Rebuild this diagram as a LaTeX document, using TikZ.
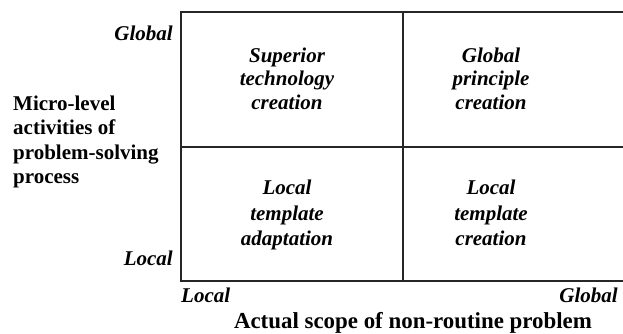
\documentclass[tikz,border=0pt]{standalone}
\usepackage{fontspec}
\setmainfont{Liberation Serif}
\begin{document}
\begin{tikzpicture}[x=1pt,y=-1pt,
  grid/.style={line width=1.3pt, black!85},
  cell/.style={font=\fontsize{21}{23.5}\selectfont\bfseries\itshape, align=center, inner sep=0pt},
  lowcell/.style={cell, font=\fontsize{21}{25.5}\selectfont\bfseries\itshape},
  axislabel/.style={font=\fontsize{21}{24}\selectfont\bfseries\itshape, inner sep=0pt},
  sidetitle/.style={font=\fontsize{21}{24.5}\selectfont\bfseries, inner sep=0pt},
  bottomtitle/.style={font=\fontsize{22.9}{26}\selectfont\bfseries, inner sep=0pt}]
  \useasboundingbox (0,0) rectangle (623,334);

  % matrix frame (open on the right)
  \coordinate (tl) at (181,12);
  \coordinate (bl) at (181,281);
  \coordinate (tr) at (623,12);
  \coordinate (br) at (623,281);
  \coordinate (ml) at (181,147);
  \coordinate (mr) at (623,147);
  \coordinate (mt) at (403,12);
  \coordinate (mb) at (403,281);
  \draw[grid] (tr) -- (tl) -- (bl) -- (br);
  \draw[grid] (ml) -- (mr);
  \draw[grid] (mt) -- (mb);

  % quadrant contents
  \node[cell] (q1) at (287,81) {\strut Superior\\\strut technology\\\strut creation};
  \node[cell] (q2) at (491,81) {\strut Global\\\strut principle\\\strut creation};
  \node[lowcell] (q3) at (287,215) {\strut Local\\\strut template\\\strut adaptation};
  \node[lowcell] (q4) at (491,215) {\strut Local\\\strut template\\\strut creation};

  % vertical axis
  \node[axislabel, anchor=east] (yhi) at (173,33) {Global};
  \node[axislabel, anchor=east] (ylo) at (173,258) {Local};
  \node[sidetitle, anchor=west, align=left] (ytitle) at (13,142)
    {Micro-level\\activities of\\problem-solving\\process};

  % horizontal axis
  \node[axislabel, anchor=west] (xlo) at (181,295) {Local};
  \node[axislabel, anchor=east] (xhi) at (618,295) {Global};
  \node[bottomtitle] (xtitle) at (413,323) {Actual scope of non-routine problem};
\end{tikzpicture}
\end{document}
